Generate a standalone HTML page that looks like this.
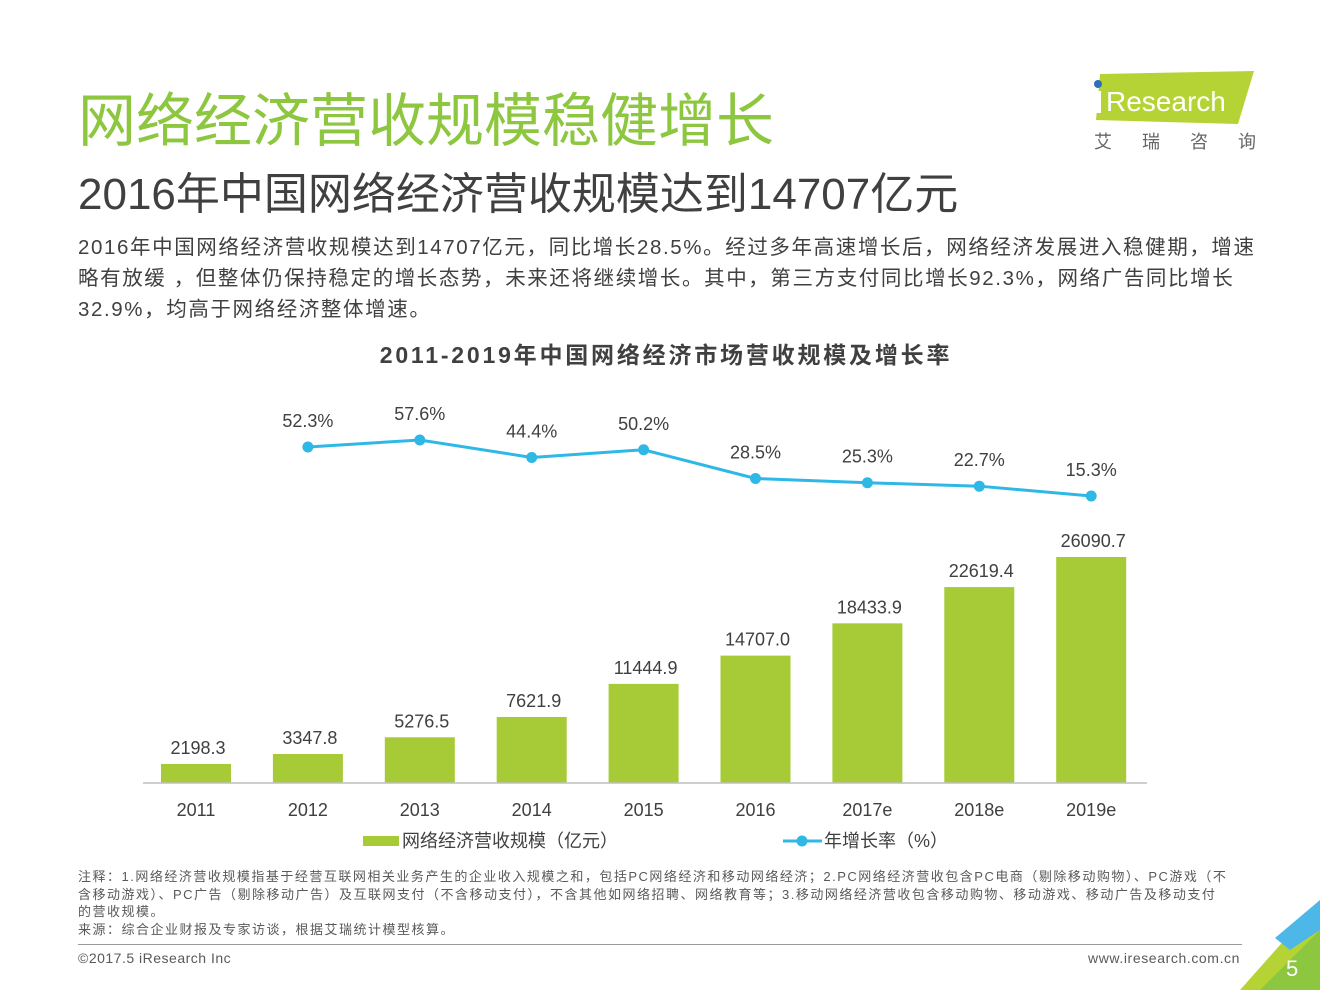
<!DOCTYPE html>
<html><head><meta charset="utf-8"><style>
body{margin:0;width:1320px;height:990px;background:#fff;position:relative;overflow:hidden;font-family:"Liberation Sans","Noto Sans CJK SC",sans-serif;}
.a{position:absolute;white-space:nowrap}
</style></head><body>
<div class="a" style="left:78px;top:74px;font-size:58px;color:#8dc63f">网络经济营收规模稳健增长</div>
<div class="a" style="left:78px;top:158px;font-size:44px;color:#404040">2016年中国网络经济营收规模达到14707亿元</div>
<div class="a" style="left:78px;top:232px;font-size:20.5px;color:#404040;line-height:31px;letter-spacing:1.6px">2016年中国网络经济营收规模达到14707亿元，同比增长28.5%。经过多年高速增长后，网络经济发展进入稳健期，增速<br>略有放缓 ，但整体仍保持稳定的增长态势，未来还将继续增长。其中，第三方支付同比增长92.3%，网络广告同比增长<br>32.9%，均高于网络经济整体增速。</div>
<svg class="a" style="left:1088px;top:68px" width="180" height="90">
<polygon points="12,6 166,3 150,56 8,52" fill="#b5d334"/>
<circle cx="10" cy="16" r="4" fill="#2e6fb7"/>
<rect x="7" y="23" width="6" height="22" fill="#fff"/>
<text x="18" y="43" font-size="28" fill="#fff" font-family="Liberation Sans">Research</text>
<text x="6" y="80" font-size="18" fill="#666" font-family="Noto Sans CJK SC">艾</text>
<text x="54" y="80" font-size="18" fill="#666" font-family="Noto Sans CJK SC">瑞</text>
<text x="102" y="80" font-size="18" fill="#666" font-family="Noto Sans CJK SC">咨</text>
<text x="150" y="80" font-size="18" fill="#666" font-family="Noto Sans CJK SC">询</text>
</svg>
<div class="a" style="left:0;width:1332px;text-align:center;top:336px;font-size:23px;font-weight:bold;color:#404040;letter-spacing:2.8px">2011-2019年中国网络经济市场营收规模及增长率</div>
<svg id="chart" class="a" style="left:0;top:0" width="1320" height="870"></svg>
<div class="a" style="left:78px;top:868px;font-size:13px;color:#595959;line-height:17.5px;letter-spacing:1.5px">注释：1.网络经济营收规模指基于经营互联网相关业务产生的企业收入规模之和，包括PC网络经济和移动网络经济；2.PC网络经济营收包含PC电商（剔除移动购物）、PC游戏（不<br>含移动游戏）、PC广告（剔除移动广告）及互联网支付（不含移动支付），不含其他如网络招聘、网络教育等；3.移动网络经济营收包含移动购物、移动游戏、移动广告及移动支付<br>的营收规模。<br>来源：综合企业财报及专家访谈，根据艾瑞统计模型核算。</div>
<div class="a" style="left:78px;top:944px;width:1164px;height:1px;background:#999"></div>
<div class="a" style="left:78px;top:950px;font-size:14px;color:#595959;letter-spacing:0.5px">©2017.5 iResearch Inc</div>
<div class="a" style="left:1088px;top:950px;font-size:14px;color:#595959;letter-spacing:0.6px">www.iresearch.com.cn</div>
<svg class="a" style="left:1200px;top:890px" width="120" height="100">
<polygon points="120,10 120,100 40,100" fill="#b5d334"/>
<polygon points="120,10 120,40 90,60 75,48" fill="#4db8e8"/>
<polygon points="120,40 120,100 60,100" fill="#8dc63f"/>
<text x="86" y="86" font-size="22" fill="#fff">5</text>
</svg>
<script>
const years=["2011","2012","2013","2014","2015","2016","2017e","2018e","2019e"];
const revenue=[2198.3,3347.8,5276.5,7621.9,11444.9,14707.0,18433.9,22619.4,26090.7];
const growth=[52.3,57.6,44.4,50.2,28.5,25.3,22.7,15.3];
const svg=document.getElementById('chart');const NS='http://www.w3.org/2000/svg';
function mk(t,a,txt){const e=document.createElementNS(NS,t);for(const k in a)e.setAttribute(k,a[k]);if(txt!==undefined)e.textContent=txt;svg.appendChild(e);return e;}
const xc=i=>196+111.9*i;const yb=v=>783-v*0.008662;const yl=v=>447+(52.3-v)*1.324;
revenue.forEach((v,i)=>{
const r=mk('rect',{x:xc(i)-35,y:yb(v),width:70,height:783-yb(v),fill:'#a6cb37'});


const t=mk('text',{x:xc(i)+2,y:yb(v)-10,'text-anchor':'middle','font-size':18,fill:'#404040'},v.toFixed(1));


const c=mk('text',{x:xc(i),y:816,'text-anchor':'middle','font-size':18,fill:'#404040'},years[i]);


});
const ax=mk('line',{x1:143,x2:1147,y1:783,y2:783,stroke:'#bfbfbf','stroke-width':1.5});


const pl=mk('polyline',{points:growth.map((v,i)=>xc(i+1)+','+yl(v)).join(' '),fill:'none',stroke:'#2fb8e6','stroke-width':3});


growth.forEach((v,i)=>{
const c=mk('circle',{cx:xc(i+1),cy:yl(v),r:5.5,fill:'#2fb8e6'});


const t=mk('text',{x:xc(i+1),y:yl(v)-20,'text-anchor':'middle','font-size':18,fill:'#404040'},v.toFixed(1)+'%');


});
const l1=mk('rect',{x:363,y:836,width:36,height:10,fill:'#a6cb37'});


const l2=mk('text',{x:402,y:847,'font-size':18,fill:'#404040'},'网络经济营收规模（亿元）');


const l3=mk('line',{x1:783,x2:822,y1:841,y2:841,stroke:'#2fb8e6','stroke-width':3});


const l4=mk('circle',{cx:802,cy:841,r:5.5,fill:'#2fb8e6'});


const l5=mk('text',{x:824,y:847,'font-size':18,fill:'#404040'},'年增长率（%）');


</script>
</body></html>
